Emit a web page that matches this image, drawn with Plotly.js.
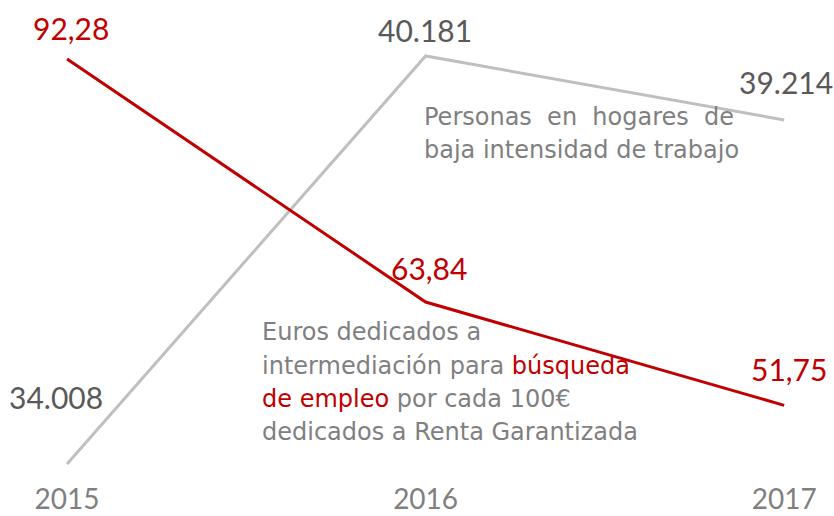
<!DOCTYPE html>
<html><head><meta charset="utf-8">
<script src="https://cdn.plot.ly/plotly-3.0.1.min.js"></script>
<style>html,body{margin:0;padding:0;background:#fff}#c{width:834px;height:516px}</style>
</head><body><div id="c"></div>
<script>
const years = [2015, 2016, 2017];
const yearLabels = ['2015', '2016', '2017'];
const personas = [34008, 40181, 39214];
const personasLabels = ['34.008', '40.181', '39.214'];
const euros = [92.28, 63.84, 51.75];
const eurosLabels = ['92,28', '63,84', '51,75'];

const RED = '#C00000', GRAYLINE = '#BFBFBF', GRAYTXT = '#7F7F7F', DARK = '#595959';
const FONT = 'Lato, "Open Sans", sans-serif';
const FONT2 = '"DejaVu Sans", sans-serif';

const personasText = ['Personas&nbsp;&nbsp;en&nbsp;&nbsp;hogares&nbsp;&nbsp;de', 'baja intensidad de trabajo'];
const eurosText = ['Euros dedicados a',
  'intermediación para <span style="color:' + RED + '">búsqueda</span>',
  '<span style="color:' + RED + '">de empleo</span> por cada 100€',
  'dedicados a Renta Garantizada'];

const traces = [
  {x: years, y: personas, type: 'scatter', mode: 'lines', line: {color: GRAYLINE, width: 3}, yaxis: 'y', hoverinfo: 'none'},
  {x: years, y: euros, type: 'scatter', mode: 'lines', line: {color: RED, width: 3}, yaxis: 'y2', hoverinfo: 'none'}
];

const pShift = [67, 26, 38];
const eShift = [31, 34, 36];
const pXShift = [-11, -1, 2];
const eXShift = [4, 3, 5];
const annotations = [];
years.forEach((yr, i) => {
  annotations.push({x: yr, y: personas[i], xref: 'x', yref: 'y', text: personasLabels[i], showarrow: false,
    yshift: pShift[i], xshift: pXShift[i], font: {family: FONT, size: 30, color: DARK}});
  annotations.push({x: yr, y: euros[i], xref: 'x', yref: 'y2', text: eurosLabels[i], showarrow: false,
    yshift: eShift[i], xshift: eXShift[i], font: {family: FONT, size: 30, color: RED}});
});
const pTop = [117, 150];
personasText.forEach((t, i) => annotations.push({xref: 'paper', yref: 'paper', x: 422/834, y: (480-pTop[i])/460,
  xanchor: 'left', yanchor: 'middle', align: 'left', showarrow: false,
  font: {family: FONT2, size: 24, color: GRAYTXT}, text: t}));
const eTop = [332, 366, 399, 432];
eurosText.forEach((t, i) => annotations.push({xref: 'paper', yref: 'paper', x: 260/834, y: (480-eTop[i])/460,
  xanchor: 'left', yanchor: 'middle', align: 'left', showarrow: false,
  font: {family: FONT2, size: 24, color: GRAYTXT}, text: t}));

const layout = {
  width: 834, height: 516,
  margin: {l: 0, r: 0, t: 20, b: 36},
  paper_bgcolor: '#fff', plot_bgcolor: '#fff',
  showlegend: false,
  xaxis: {range: [2014.813, 2017.139], tickvals: years, ticktext: yearLabels, showgrid: false, zeroline: false, showline: false,
    ticks: '', tickfont: {family: FONT, size: 28, color: GRAYTXT}},
  yaxis: {range: [33765.5, 40725.7], visible: false, showgrid: false, zeroline: false},
  yaxis2: {range: [43.01, 96.845], overlaying: 'y', visible: false, showgrid: false, zeroline: false},
  annotations: annotations
};
Plotly.newPlot('c', traces, layout, {staticPlot: true, displayModeBar: false});
</script></body></html>
